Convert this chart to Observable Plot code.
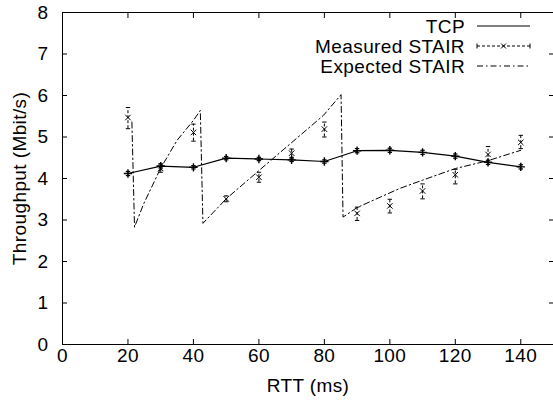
<!DOCTYPE html>
<html><head><meta charset="utf-8">
<script src="https://cdn.jsdelivr.net/npm/d3@7"></script>
<script src="https://cdn.jsdelivr.net/npm/@observablehq/plot@0.6"></script>
<style>
body{margin:0;background:#fff;}
#wrap{position:relative;width:553px;height:410px;font-family:"Liberation Sans",Arial,sans-serif;}
#legend{position:absolute;left:0;top:0;}
svg text{letter-spacing:0.4px;}
</style></head><body><div id="wrap"></div>
<script>
// ---- data ----
const rtt = [20, 30, 40, 50, 60, 70, 80, 90, 100, 110, 120, 130, 140];
const tcpThroughput = [4.12, 4.30, 4.27, 4.49, 4.47, 4.45, 4.41, 4.67, 4.68, 4.63, 4.54, 4.39, 4.28];
const tcpError = [0.05, 0.05, 0.04, 0.04, 0.04, 0.04, 0.04, 0.05, 0.05, 0.05, 0.05, 0.05, 0.05];
const measuredThroughput = [5.47, 4.24, 5.11, 3.51, 4.03, 4.61, 5.19, 3.16, 3.34, 3.70, 4.09, 4.58, 4.87];
const measuredLow = [5.20, 4.15, 4.90, 3.44, 3.91, 4.51, 5.00, 2.99, 3.17, 3.51, 3.87, 4.39, 4.72];
const measuredHigh = [5.71, 4.35, 5.31, 3.58, 4.15, 4.71, 5.36, 3.31, 3.50, 3.87, 4.22, 4.77, 5.04];
const expectedRtt = [21.2, 22.0, 24.8, 30, 35, 40, 42.1, 42.9, 50, 60, 72.6, 79.7, 85.1, 85.7, 90, 103, 110, 120, 130, 140];
const expectedThroughput = [5.36, 2.83, 3.39, 4.25, 4.92, 5.40, 5.64, 2.92, 3.51, 4.19, 5.04, 5.52, 6.02, 3.07, 3.30, 3.76, 3.96, 4.24, 4.43, 4.68];
const xTicks = [0, 20, 40, 60, 80, 100, 120, 140];
const yTicks = [0, 1, 2, 3, 4, 5, 6, 7, 8];
const legendLabels = ["TCP", "Measured STAIR", "Expected STAIR"];
const xTitle = "RTT (ms)";
const yTitle = "Throughput (Mbit/s)";

// ---- tables ----
const tcp = rtt.map((x, i) => ({x, y: tcpThroughput[i], lo: tcpThroughput[i] - tcpError[i], hi: tcpThroughput[i] + tcpError[i]}));
const measured = rtt.map((x, i) => ({x, y: measuredThroughput[i], lo: measuredLow[i], hi: measuredHigh[i]}));
const expected = expectedRtt.map((x, i) => ({x, y: expectedThroughput[i]}));

const cap = {draw(ctx, size) { const r = Math.sqrt(size / Math.PI); ctx.moveTo(-r, 0); ctx.lineTo(r, 0); }};
const DASH = "3,2";
const DASHDOT = "6,3,1.5,3";
const FONT = "Liberation Sans, Arial, sans-serif";

const W = 553, H = 410;
const plot = Plot.plot({
  width: W, height: H,
  marginLeft: 62, marginRight: 0, marginTop: 12, marginBottom: 66,
  style: {fontFamily: FONT, fontSize: "19px", color: "#000", background: "#fff", overflow: "visible"},
  x: {domain: [0, 150]},
  y: {domain: [0, 8]},
  marks: [
    Plot.axisX(xTicks, {anchor: "bottom", tickSize: 0, tickPadding: 4, label: null, fontSize: 19}),
    Plot.axisX(xTicks, {anchor: "bottom", tickSize: -5, tickFormat: () => "", label: null}),
    Plot.axisX(xTicks, {anchor: "top", tickSize: -5, tickFormat: () => "", label: null}),
    Plot.axisY(yTicks, {anchor: "left", tickSize: 0, tickPadding: 14, label: null, fontSize: 19}),
    Plot.axisY(yTicks, {anchor: "left", tickSize: -5, tickFormat: () => "", label: null}),
    Plot.axisY(yTicks, {anchor: "right", tickSize: -5, tickFormat: () => "", label: null}),
    Plot.frame({stroke: "#000", strokeWidth: 1}),
    Plot.text([xTitle], {frameAnchor: "bottom", dy: 41, fontSize: 19, lineAnchor: "middle", textAnchor: "middle"}),
    Plot.text([yTitle], {frameAnchor: "left", dx: -43, rotate: -90, fontSize: 19, lineAnchor: "middle", textAnchor: "middle"}),
    // Expected STAIR
    Plot.line(expected, {x: "x", y: "y", stroke: "#000", strokeWidth: 1, strokeDasharray: DASHDOT}),
    // Measured STAIR
    Plot.ruleX(measured, {x: "x", y1: "lo", y2: "hi", stroke: "#000", strokeWidth: 1, strokeDasharray: DASH}),
    Plot.dot(measured, {x: "x", y: "lo", symbol: cap, r: 2.2, stroke: "#000", strokeWidth: 1}),
    Plot.dot(measured, {x: "x", y: "hi", symbol: cap, r: 2.2, stroke: "#000", strokeWidth: 1}),
    Plot.dot(measured, {x: "x", y: "y", symbol: "times", r: 2.6, stroke: "#000", strokeWidth: 1}),
    // TCP
    Plot.line(tcp, {x: "x", y: "y", stroke: "#000", strokeWidth: 1.2}),
    Plot.ruleX(tcp, {x: "x", y1: "lo", y2: "hi", stroke: "#000", strokeWidth: 1.2}),
    Plot.dot(tcp, {x: "x", y: "lo", symbol: cap, r: 2.2, stroke: "#000", strokeWidth: 1.2}),
    Plot.dot(tcp, {x: "x", y: "hi", symbol: cap, r: 2.2, stroke: "#000", strokeWidth: 1.2}),
    Plot.dot(tcp, {x: "x", y: "y", symbol: "plus", r: 2.8, stroke: "#000", strokeWidth: 1.4})
  ]
});
document.getElementById("wrap").appendChild(plot);

// ---- legend (inside the plot area, top right) ----
const lg = d3.select("#wrap").append("svg").attr("id", "legend").attr("width", W).attr("height", 90)
  .style("font-family", FONT).style("font-size", "19px");
const rowY = [26, 46, 66];
const textRight = 465, sx1 = 477, sx2 = 530;
legendLabels.forEach((lab, i) => {
  const y = rowY[i];
  lg.append("text").attr("x", textRight).attr("y", y).attr("text-anchor", "end")
    .attr("dominant-baseline", "central").attr("fill", "#000").text(lab);
  const style = i === 0 ? null : (i === 1 ? DASH : DASHDOT);
  lg.append("line").attr("x1", sx1).attr("x2", sx2).attr("y1", y).attr("y2", y)
    .attr("stroke", "#000").attr("stroke-width", i === 0 ? 1.2 : 1).attr("stroke-dasharray", style);
  if (i === 1) {
    [sx1, sx2].forEach(x => lg.append("line").attr("x1", x).attr("x2", x).attr("y1", y - 2.5).attr("y2", y + 2.5).attr("stroke", "#000"));
    const mx = (sx1 + sx2) / 2;
    lg.append("path").attr("d", `M${mx-2.5},${y-2.5}L${mx+2.5},${y+2.5}M${mx-2.5},${y+2.5}L${mx+2.5},${y-2.5}`).attr("stroke", "#000");
  }
});
</script></body></html>
